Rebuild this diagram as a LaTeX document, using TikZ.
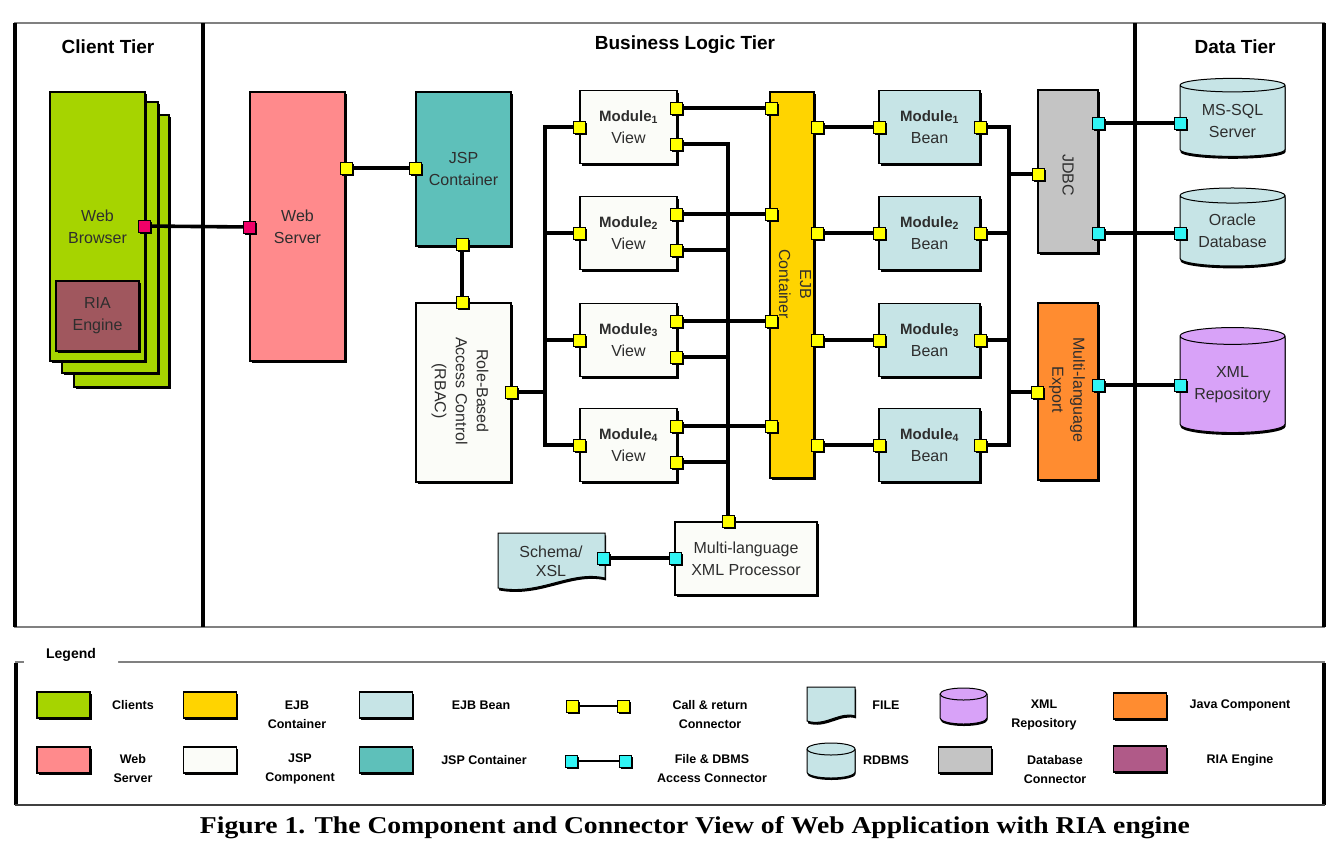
\documentclass[tikz,border=0pt]{standalone}
\usepackage{graphicx}
\usepackage{fontspec}
\setmainfont{Liberation Sans}
\newfontfamily\capfont{Liberation Serif}
\usetikzlibrary{positioning,shapes.geometric,shadows}
\pgfdeclarelayer{front}
\pgfsetlayers{main,front}

\definecolor{clientgreen}{HTML}{A6D400}
\definecolor{serverpink}{HTML}{FF8A8C}
\definecolor{jspteal}{HTML}{5EC0BA}
\definecolor{ejbyellow}{HTML}{FFD400}
\definecolor{beancyan}{HTML}{C6E4E6}
\definecolor{jdbcgray}{HTML}{C4C4C4}
\definecolor{javaorange}{HTML}{FF8C30}
\definecolor{xmlpurple}{HTML}{D8A2F8}
\definecolor{riabrown}{HTML}{A0575E}
\definecolor{riamagenta}{HTML}{B05A88}
\definecolor{jspwhite}{HTML}{FBFCF8}
\definecolor{portyellow}{HTML}{FFFF00}
\definecolor{portcyan}{HTML}{30F4F4}
\definecolor{portpink}{HTML}{F00068}
\definecolor{inkgray}{HTML}{2E2E2E}

\newcommand{\modlabel}[1]{{\fontsize{15}{22}\selectfont\bfseries Module\textsubscript{#1}}}

\begin{document}
\begin{tikzpicture}[x=1pt,y=-1pt,
    comp/.style={draw=black,line width=1.2pt,inner sep=0pt,align=center,
      text=inkgray,font=\fontsize{16}{22}\selectfont,
      general shadow={fill=black,shadow xshift=2.4pt,shadow yshift=-2.4pt}},
    rottext/.style={rotate=-90,align=center,text=inkgray,
      font=\fontsize{16}{21}\selectfont},
    port/.style={draw=black,line width=0.8pt,minimum size=12pt,inner sep=0pt,
      general shadow={fill=black,shadow xshift=1.6pt,shadow yshift=-1.6pt}},
    callport/.style={port,fill=portyellow},
    fileport/.style={port,fill=portcyan},
    webport/.style={port,fill=portpink},
    conn/.style={line width=3.6pt},
    tier/.style={font=\fontsize{19}{22}\selectfont\bfseries},
    db/.style={cylinder,shape border rotate=90,aspect=0.22,draw=black,
      line width=1pt,fill=#1,inner sep=0pt,align=center,text=inkgray,
      font=\fontsize{16}{22}\selectfont,
      general shadow={fill=black,shadow xshift=0.5pt,shadow yshift=-2.4pt}},
    dbmark/.style={draw=black,line width=1pt,fill=#1,
      general shadow={fill=black,shadow xshift=0.5pt,shadow yshift=-2pt}},
    docshape/.style={draw=black,line width=1pt,fill=beancyan,
      general shadow={fill=black,shadow xshift=1pt,shadow yshift=-2.4pt}},
    swatch/.style={draw=black,line width=1.2pt,minimum width=53,
      minimum height=26,fill=#1,
      general shadow={fill=black,shadow xshift=1.6pt,shadow yshift=-1.8pt}},
    legtext/.style={font=\fontsize{12.5}{19}\selectfont\bfseries,align=center}]

  \useasboundingbox (0,0) rectangle (1340,844);

  \draw[gray,line width=1.4pt] (14,23) -- (1325,23) (14,627) -- (1325,627);
  \draw[line width=3.8pt] (15,23) -- (15,627) (203,23) -- (203,627)
    (1135,23) -- (1135,627) (1324,23) -- (1324,627);

  \node[tier] (clienttier) at (108,47) {Client Tier};
  \node[tier] (logictier) at (685,45) {Business Logic Tier};
  \node[tier] (datatier) at (1235,47) {Data Tier};

  \node[comp,fill=clientgreen,minimum width=95,minimum height=272] (client3) at (121.5,251) {};
  \node[comp,fill=clientgreen,minimum width=96,minimum height=271] (client2) at (110,237.5) {};
  \node[comp,fill=clientgreen,minimum width=95,minimum height=269] (browser) at (97.5,226.5) {Web\\Browser};
  \node[comp,fill=riabrown,minimum width=83,minimum height=70] (ria) at (97.5,316) {RIA\\Engine};

  \node[comp,fill=serverpink,minimum width=95,minimum height=269] (webserver) at (297.5,226.5) {Web\\Server};
  \node[comp,fill=jspteal,minimum width=95,minimum height=154] (jsp) at (463.5,169) {JSP\\Container};
  \node[comp,fill=jspwhite,minimum width=95,minimum height=179] (rbac) at (463.5,392.5) {};
  \node[rottext] (rbactext) at (460,391) {Role-Based\\Access Control\\(RBAC)};

  \node[comp,fill=ejbyellow,minimum width=44,minimum height=386] (ejb) at (792,285) {};
  \node[rottext] (ejbtext) at (795,284) {EJB\\Container};

  \node[comp,fill=jdbcgray,minimum width=60,minimum height=163] (jdbc) at (1068,171.5) {};
  \node[rottext] (jdbctext) at (1068,175) {JDBC};
  \node[comp,fill=javaorange,minimum width=60,minimum height=177] (export) at (1068,391.5) {};
  \node[rottext] (exporttext) at (1067,390) {Multi-language\\Export};

  \node[db=beancyan,minimum width=105,minimum height=78] (mssql) at (1232.5,121) {MS-SQL\\Server};
  \node[db=beancyan,minimum width=105,minimum height=78] (oracle) at (1232.5,231) {Oracle\\Database};
  \node[db=xmlpurple,minimum width=105,minimum height=105] (xmlrepo) at (1232.5,384.5) {XML\\Repository};

  \draw[docshape] (498,533) -- (605,533) -- (605,578)
    .. controls (570,570) and (540,596) .. (498,588) -- cycle;
  \node[text=inkgray,align=center,font=\fontsize{16}{19}\selectfont] (schema) at (551,561) {Schema/\\XSL};
  \node[comp,fill=jspwhite,minimum width=142,minimum height=73] (xmlproc) at (746,558.5) {Multi-language\\XML Processor};

  \foreach \i/\yy in {1/127,2/233,3/340,4/445} {
    \node[comp,fill=jspwhite,minimum width=97,minimum height=73] (view\i) at (628.5,\yy) {\modlabel{\i}\\View};
    \node[comp,fill=beancyan,minimum width=101,minimum height=73] (bean\i) at (929.5,\yy) {\modlabel{\i}\\Bean};
    \begin{pgfonlayer}{front}
      \node[callport] (vL\i) at (579,\yy) {};
      \node[callport] (vT\i) at (676,\yy-19) {};
      \node[callport] (vB\i) at (676,\yy+17) {};
      \node[callport] (eL\i) at (771,\yy-19) {};
      \node[callport] (eR\i) at (817,\yy) {};
      \node[callport] (bL\i) at (879,\yy) {};
      \node[callport] (bR\i) at (980,\yy) {};
    \end{pgfonlayer}
  }

  \begin{pgfonlayer}{front}
    \node[webport] (browserR) at (144,226) {};
    \node[webport] (webserverL) at (249,227) {};
    \node[callport] (webserverR) at (346,168) {};
    \node[callport] (jspL) at (415,168) {};
    \node[callport] (jspB) at (462,244) {};
    \node[callport] (rbacT) at (462,302) {};
    \node[callport] (rbacR) at (511,392) {};
    \node[callport] (procT) at (728,521) {};
    \node[fileport] (procL) at (675,558) {};
    \node[fileport] (schemaR) at (603,558) {};
    \node[callport] (jdbcL) at (1038,174) {};
    \node[fileport] (jdbcR1) at (1098,123) {};
    \node[fileport] (jdbcR2) at (1098,233) {};
    \node[callport] (exportL) at (1037,392) {};
    \node[fileport] (exportR) at (1098,385) {};
    \node[fileport] (mssqlL) at (1180,123) {};
    \node[fileport] (oracleL) at (1180,233) {};
    \node[fileport] (xmlrepoL) at (1180,385) {};
  \end{pgfonlayer}

  \coordinate (lbus) at (545,392);
  \coordinate (rbus) at (1009,300);

  \draw[conn] (browserR.center) -- (webserverL.center);
  \draw[conn] (webserverR.center) -- (jspL.center);
  \draw[conn] (jspB.center) -- (rbacT.center);
  \draw[conn] (rbacR.center) -- (lbus);
  \draw[conn] (vL1.center) -| (vL4 -| lbus) -- (vL4.center);
  \draw[conn] (vL2.center) -- (vL2 -| lbus);
  \draw[conn] (vL3.center) -- (vL3 -| lbus);
  \draw[conn] (vB1.center) -| (procT.center);
  \draw[conn] (bR1.center) -| (bR4 -| rbus) -- (bR4.center);
  \foreach \i in {2,3,4} {
    \draw[conn] (vB\i.center) -- (vB\i -| procT);
  }
  \foreach \i in {1,...,4} {
    \draw[conn] (vT\i.center) -- (eL\i.center);
    \draw[conn] (eR\i.center) -- (bL\i.center);
  }
  \draw[conn] (bR2.center) -- (bR2 -| rbus);
  \draw[conn] (bR3.center) -- (bR3 -| rbus);
  \draw[conn] (jdbcL.center) -- (jdbcL -| rbus);
  \draw[conn] (exportL.center) -- (exportL -| rbus);
  \draw[conn] (jdbcR1.center) -- (mssqlL.center);
  \draw[conn] (jdbcR2.center) -- (oracleL.center);
  \draw[conn] (exportR.center) -- (xmlrepoL.center);
  \draw[conn] (schemaR.center) -- (procL.center);

  \draw[gray,line width=1.4pt] (15,662) -- (1325,662);
  \draw[line width=3.8pt] (16,663) -- (16,805) (1324,663) -- (1324,805);
  \draw[darkgray,line width=1.8pt] (15,805) -- (1325,805);
  \node[fill=white,rounded corners=4pt,minimum width=94,minimum height=29,
    font=\fontsize{14}{16}\selectfont\bfseries] (legend) at (71,655) {Legend};

  \node[swatch=clientgreen] (lclient) at (63.5,705) {};
  \node[legtext] (lclienttext) at (133,705) {Clients};
  \node[swatch=serverpink] (lserver) at (63.5,760) {};
  \node[legtext] (lservertext) at (133,769) {Web\\Server};
  \node[swatch=ejbyellow] (lejb) at (210,705) {};
  \node[legtext] (lejbtext) at (297,715) {EJB\\Container};
  \node[swatch=jspwhite] (ljsp) at (210,760) {};
  \node[legtext] (ljsptext) at (300,769) {JSP\\Component};
  \node[swatch=beancyan] (lbean) at (386,705) {};
  \node[legtext] (lbeantext) at (481,705) {EJB Bean};
  \node[swatch=jspteal] (ljspc) at (386,760) {};
  \node[legtext] (ljspctext) at (484,760) {JSP Container};

  \begin{pgfonlayer}{front}
    \node[callport] (lcallA) at (572,706) {};
    \node[callport] (lcallB) at (623,706) {};
    \node[fileport] (lfileA) at (571,761) {};
    \node[fileport] (lfileB) at (625,761) {};
  \end{pgfonlayer}
  \draw[line width=2.4pt] (lcallA.center) -- (lcallB.center);
  \draw[line width=2.4pt] (lfileA.center) -- (lfileB.center);
  \node[legtext] (lcalltext) at (710,715) {Call \& return\\Connector};
  \node[legtext] (lfiletext) at (712,769) {File \& DBMS\\Access Connector};

  \draw[docshape] (807,687) -- (855,687) -- (855,716)
    .. controls (840,711) and (825,727) .. (807,721) -- cycle;
  \node[legtext] (lfiletag) at (886,705) {FILE};

  \draw[dbmark=beancyan] (807,749) -- (807,772)
    arc[start angle=180,end angle=360,x radius=24pt,y radius=6pt]
    -- (855,749) arc[start angle=0,end angle=180,x radius=24pt,y radius=6pt] -- cycle;
  \draw[line width=1pt] (807,749) arc[start angle=180,end angle=360,x radius=24pt,y radius=6pt];
  \node[legtext] (lrdbmstext) at (886,760) {RDBMS};

  \draw[dbmark=xmlpurple] (940,694) -- (940,718)
    arc[start angle=180,end angle=360,x radius=23.5pt,y radius=6pt]
    -- (987,694) arc[start angle=0,end angle=180,x radius=23.5pt,y radius=6pt] -- cycle;
  \draw[line width=1pt] (940,694) arc[start angle=180,end angle=360,x radius=23.5pt,y radius=6pt];
  \node[legtext] (lxmltext) at (1044,715) {XML\\Repository};

  \node[swatch=jdbcgray] (ldbconn) at (965,760) {};
  \node[legtext] (ldbconntext) at (1055,770) {Database\\Connector};
  \node[swatch=javaorange] (ljava) at (1140,706) {};
  \node[legtext] (ljavatext) at (1240,705) {Java Component};
  \node[swatch=riamagenta] (lria) at (1140,759) {};
  \node[legtext] (lriatext) at (1240,760) {RIA Engine};

  \node[anchor=base,font=\capfont\bfseries] (caption) at (695,833)
    {\resizebox{990pt}{17pt}{Figure 1. The Component and Connector View of Web Application with RIA engine}};
\end{tikzpicture}
\end{document}
